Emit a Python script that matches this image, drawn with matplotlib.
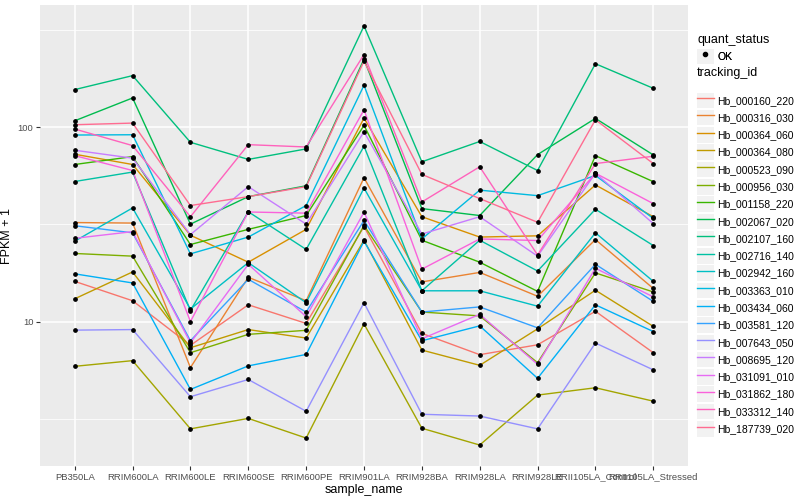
import matplotlib
matplotlib.use("Agg")
import matplotlib.pyplot as plt
import numpy as np
from matplotlib.lines import Line2D
from matplotlib.patches import Patch
from matplotlib.ticker import FixedLocator, NullFormatter

plt.rcParams['font.family'] = ['Liberation Sans', 'DejaVu Sans']

samples = ["PB350LA", "RRIM600LA", "RRIM600LE", "RRIM600SE", "RRIM600PE",
           "RRIM901LA", "RRIM928BA", "RRIM928LA", "RRIM928LE",
           "RRII105LA_Control", "RRII105LA_Stressed"]

tracking_ids = ["Hb_000160_220", "Hb_000316_030", "Hb_000364_060", "Hb_000364_080",
                "Hb_000523_090", "Hb_000956_030", "Hb_001158_220", "Hb_002067_020",
                "Hb_002107_160", "Hb_002716_140", "Hb_002942_160", "Hb_003363_010",
                "Hb_003434_060", "Hb_003581_120", "Hb_007643_050", "Hb_008695_120",
                "Hb_031091_010", "Hb_031862_180", "Hb_033312_140", "Hb_187739_020"]

colors = ["#F8766D", "#EA8331", "#D89000", "#C09B00", "#A3A500", "#7CAE00",
          "#39B600", "#00BB4E", "#00BF7D", "#00C1A3", "#00BFC4", "#00BAE0",
          "#00B0F6", "#35A2FF", "#9590FF", "#C77CFF", "#E76BF3", "#FA62DB",
          "#FF62BC", "#FF6C91"]

# FPKM + 1 per tracking_id, in sample order
Hb_000160_220 = [16.1, 12.8, 7.55, 12.2, 9.79, 30.8, 8.70, 6.76, 7.60, 11.3, 6.92]
Hb_000316_030 = [32.3, 32.1, 5.80, 16.9, 12.8, 54.9, 16.0, 17.9, 13.5, 26.4, 14.8]
Hb_000364_060 = [72.5, 64.2, 27.8, 20.2, 29.8, 111.2, 34.6, 27.2, 27.6, 50.4, 34.6]
Hb_000364_080 = [13.1, 18.0, 7.34, 9.10, 8.23, 26.2, 7.14, 5.96, 9.18, 14.5, 9.45]
Hb_000523_090 = [5.89, 6.30, 2.81, 3.18, 2.52, 9.73, 2.83, 2.32, 4.19, 4.57, 3.90]
Hb_000956_030 = [22.4, 21.7, 6.92, 8.60, 9.02, 31.2, 11.2, 10.7, 6.15, 17.8, 14.2]
Hb_001158_220 = [64.2, 70.5, 24.9, 29.8, 35.1, 102.0, 26.2, 20.2, 14.3, 71.3, 52.4]
Hb_002067_020 = [107.7, 141.1, 31.7, 43.9, 49.9, 223.4, 38.1, 35.1, 72.2, 110.8, 71.9]
Hb_002107_160 = [155.8, 183.8, 83.5, 68.2, 77.2, 330.9, 66.3, 84.3, 59.8, 211.6, 158.2]
Hb_002716_140 = [52.5, 58.7, 11.4, 36.7, 23.5, 79.7, 14.4, 26.2, 18.2, 37.8, 24.6]
Hb_002942_160 = [25.9, 38.4, 11.6, 20.1, 12.5, 48.6, 14.4, 14.4, 12.0, 28.6, 16.1]
Hb_003363_010 = [91.0, 91.3, 22.3, 27.2, 39.5, 163.9, 26.6, 47.4, 44.4, 56.4, 33.9]
Hb_003434_060 = [17.6, 15.8, 4.48, 5.92, 6.78, 25.9, 7.97, 9.51, 5.11, 12.2, 8.89]
Hb_003581_120 = [31.1, 28.6, 7.97, 16.5, 11.2, 33.1, 11.2, 11.9, 9.29, 19.7, 12.7]
Hb_007643_050 = [9.04, 9.10, 4.11, 5.04, 3.46, 12.5, 3.34, 3.27, 2.81, 7.76, 5.65]
Hb_008695_120 = [76.0, 69.2, 28.0, 49.4, 31.7, 94.6, 28.2, 34.6, 21.7, 57.9, 31.9]
Hb_031091_010 = [26.8, 29.0, 7.78, 19.7, 10.6, 36.5, 8.16, 10.9, 6.03, 18.8, 13.4]
Hb_031862_180 = [71.3, 59.8, 10.0, 36.6, 36.1, 122.6, 18.6, 26.6, 26.1, 57.9, 40.4]
Hb_033312_140 = [97.7, 80.3, 34.6, 81.2, 79.0, 236.0, 41.2, 62.5, 22.0, 64.9, 70.8]
Hb_187739_020 = [102.8, 104.8, 39.5, 43.9, 49.4, 218.2, 57.1, 42.9, 32.4, 109.0, 64.9]

series = [Hb_000160_220, Hb_000316_030, Hb_000364_060, Hb_000364_080, Hb_000523_090,
          Hb_000956_030, Hb_001158_220, Hb_002067_020, Hb_002107_160, Hb_002716_140,
          Hb_002942_160, Hb_003363_010, Hb_003434_060, Hb_003581_120, Hb_007643_050,
          Hb_008695_120, Hb_031091_010, Hb_031862_180, Hb_033312_140, Hb_187739_020]

fig = plt.figure(figsize=(8, 5), dpi=100)
ax = fig.add_axes([0.05, 0.068, 0.81, 0.922])
ax.set_facecolor("#EBEBEB")
for s in ax.spines.values():
    s.set_visible(False)

x = np.arange(len(samples))
for vals, c in zip(series, colors):
    ax.plot(x, vals, color=c, lw=1.0, zorder=3)
for vals in series:
    ax.plot(x, vals, ls="none", marker="o", ms=2.4, color="black", zorder=4)

ax.set_yscale("log")
allv = np.log10(np.concatenate([np.array(s) for s in series]))
lo, hi = allv.min(), allv.max()
pad = (hi - lo) * 0.05
ax.set_ylim(10 ** (lo - pad), 10 ** (hi + pad))
ax.set_xlim(-0.6, len(samples) - 0.4)

ax.yaxis.set_major_locator(FixedLocator([10, 100]))
ax.yaxis.set_minor_locator(FixedLocator([10 ** 0.5, 10 ** 1.5, 10 ** 2.5]))
ax.yaxis.set_minor_formatter(NullFormatter())
ax.set_yticklabels(["10", "100"])
ax.set_xticks(x)
ax.set_xticklabels(samples)

ax.grid(True, which="major", color="white", lw=1.1, zorder=0)
ax.grid(True, which="minor", axis="y", color="white", lw=0.55, zorder=0)
ax.set_axisbelow(True)
ax.tick_params(axis="both", which="major", length=2.8, width=0.8, color="#333333",
               labelsize=6.8, labelcolor="#4D4D4D", pad=2)
ax.tick_params(axis="y", which="minor", length=0)

ax.set_xlabel("sample_name", fontsize=9, labelpad=2)
ax.set_ylabel("FPKM + 1", fontsize=9, labelpad=3)

# legends (titles as separate text, keys via legend)
fig.text(697 / 800, 1 - 40 / 500, "quant_status", fontsize=9, ha="left", va="center")
fig.text(697 / 800, 1 - 73 / 500, "tracking_id", fontsize=9, ha="left", va="center")

kw = dict(loc="upper left", frameon=False, fontsize=7.5, handlelength=1.63,
          handleheight=1.93, handletextpad=0.3, borderpad=0, borderaxespad=0,
          labelspacing=0.16)
h1 = [(Patch(facecolor="#F2F2F2", edgecolor="none"),
       Line2D([], [], ls="none", marker="o", ms=3, color="black"))]
leg1 = fig.legend(h1, ["OK"], bbox_to_anchor=(697 / 800, 1 - 48.5 / 500), **kw)
fig.add_artist(leg1)
h2 = [(Patch(facecolor="#F2F2F2", edgecolor="none"), Line2D([], [], color=c, lw=1))
      for c in colors]
leg2 = fig.legend(h2, tracking_ids, bbox_to_anchor=(697 / 800, 1 - 92.5 / 500), **kw)

fig.savefig("out.png", dpi=100)
